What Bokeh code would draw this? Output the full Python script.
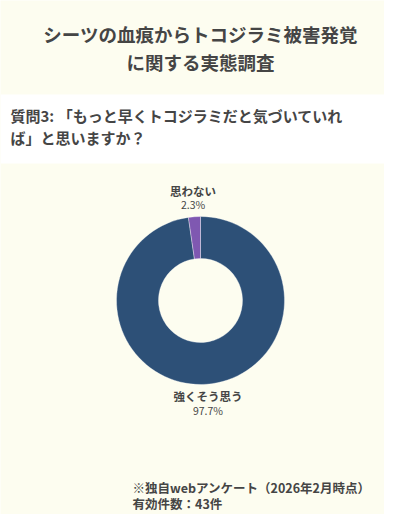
import math
from bokeh.plotting import figure
from bokeh.models import Range1d, ColumnDataSource
from bokeh.core.properties import value
from bokeh.embed import file_html
from bokeh.resources import INLINE

title_lines = ["シーツの血痕からトコジラミ被害発覚", "に関する実態調査"]
question_lines = ["質問3: 「もっと早くトコジラミだと気づいていれ", "ば」と思いますか？"]
categories = ["強くそう思う", "思わない"]
percents = [97.7, 2.3]
colors = ["#2d5077", "#7f58b1"]
footer_lines = ["※独自webアンケート（2026年2月時点）", "有効件数：43件"]

W, H = 384, 514
FONT = "Noto Sans CJK JP"
TXT = "#454545"
BG = "#fdfdf0"

p = figure(width=W, height=H, output_backend="svg", toolbar_location=None,
           x_range=Range1d(0, W), y_range=Range1d(0, H), min_border=0)
p.axis.visible = False
p.grid.visible = False
p.outline_line_color = None
p.background_fill_color = BG
p.border_fill_color = BG

def Y(yref):
    return H - yref

# question band
p.quad(left=[0], right=[397], bottom=[Y(163)], top=[Y(94)], fill_color="#ffffff",
       line_color=None)

# title
p.text(x=[200, 200], y=[Y(33), Y(61)], text=title_lines, text_font=value(FONT),
       text_font_style="bold", text_font_size="18.5px", text_color=TXT,
       text_align="center", text_baseline="middle")

# question
p.text(x=[10, 10], y=[Y(115), Y(137)], text=question_lines, text_font=value(FONT),
       text_font_style="bold", text_font_size="15px", text_color=TXT,
       text_align="left", text_baseline="middle")

# donut
cx, cy = 200, Y(300)
total = sum(percents)
starts, ends, mids = [], [], []
acc = 0.0
for v in percents:
    a0 = math.pi / 2 - 2 * math.pi * acc / total
    a1 = math.pi / 2 - 2 * math.pi * (acc + v) / total
    starts.append(a0)
    ends.append(a1)
    mids.append((a0 + a1) / 2)
    acc += v

src = ColumnDataSource(dict(start=starts, end=ends, color=colors))
p.annular_wedge(x=cx, y=cy, inner_radius=42, outer_radius=84,
                start_angle="start", end_angle="end", direction="clock",
                fill_color="color", line_color="#ffffff", line_width=0.6,
                line_alpha=0.6, source=src)

R = 103
lx = [cx + R * math.cos(m) for m in mids]
ly = [cy + R * math.sin(m) for m in mids]
p.text(x=lx, y=[y + 7 for y in ly], text=categories, text_font=value(FONT),
       text_font_style="bold", text_font_size="11.5px", text_color=TXT,
       text_align="center", text_baseline="middle")
p.text(x=lx, y=[y - 7 for y in ly], text=[f"{v}%" for v in percents],
       text_font=value(FONT), text_font_size="10.5px", text_color=TXT,
       text_align="center", text_baseline="middle")

# footer
p.text(x=[132, 132], y=[Y(487), Y(503)], text=footer_lines, text_font=value(FONT),
       text_font_style="bold", text_font_size="12.5px", text_color=TXT,
       text_align="left", text_baseline="middle")

open("out.html", "w").write(file_html(p, INLINE))
